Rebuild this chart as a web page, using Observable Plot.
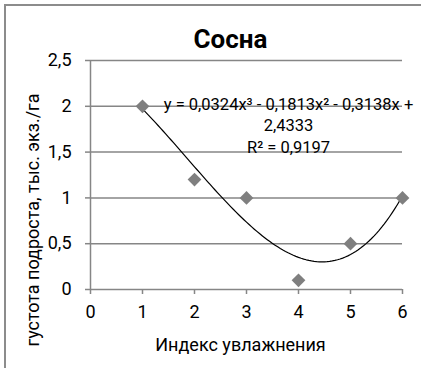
<!DOCTYPE html>
<html>
<head>
<meta charset="utf-8">
<script src="https://cdn.jsdelivr.net/npm/d3@7"></script>
<script src="https://cdn.jsdelivr.net/npm/@observablehq/plot@0.6"></script>
<style>
  html, body { margin: 0; padding: 0; background: #fff; }
  #wrap { position: relative; width: 421px; height: 368px; overflow: hidden; }
  #border { position: absolute; left: 4px; top: 4px; width: 415px; height: 362px; border: 2px solid #8c8c8c; pointer-events: none; }
</style>
</head>
<body>
<div id="wrap"><div id="border"></div></div>
<script>
// Data
const moisture = [1, 2, 3, 4, 5, 6];
const density = [2, 1.2, 1, 0.1, 0.5, 1];
const trendCoeffs = [0.0324, -0.1813, -0.3138, 2.4333]; // x^3, x^2, x, const
const xTicks = [0, 1, 2, 3, 4, 5, 6];
const yTicks = [0, 0.5, 1, 1.5, 2, 2.5];
const titleText = ["Сосна"];
const xLabel = ["Индекс увлажнения"];
const yLabel = ["густота подроста, тыс. экз./га"];
const equationText = ["y = 0,0324x³ - 0,1813x² - 0,3138x +\n2,4333\nR² = 0,9197"];

const fmt = d => String(d).replace(".", ",");
const points = moisture.map((x, i) => ({x, y: density[i]}));

// Trendline evaluated from the displayed polynomial coefficients
const trend = d3.range(moisture[0], moisture[moisture.length - 1] + 1e-9, 0.05).map(x => ({
  x,
  y: trendCoeffs[0] * x ** 3 + trendCoeffs[1] * x ** 2 + trendCoeffs[2] * x + trendCoeffs[3]
}));

const gray = "#868686";
const font = "Roboto, 'Open Sans', sans-serif";

const chart = Plot.plot({
  width: 421,
  height: 368,
  marginLeft: 90,
  marginRight: 19,
  marginTop: 60,
  marginBottom: 79,
  style: {fontFamily: font, fontSize: "16px", color: "#000", background: "transparent"},
  x: {domain: [0, 6], label: null},
  y: {domain: [0, 2.5], label: null},
  marks: [
    Plot.gridY(yTicks, {stroke: gray, strokeOpacity: 1, strokeWidth: 1.5}),
    Plot.ruleX([0], {stroke: gray, strokeWidth: 1.5}),
    Plot.axisX(xTicks, {tickSize: 5, tickPadding: 11, stroke: gray, strokeWidth: 1.5, tickFormat: fmt, fill: "#000", fontSize: 18}),
    Plot.axisY(yTicks, {tickSize: 5, tickPadding: 14, stroke: gray, strokeWidth: 1.5, tickFormat: fmt, fill: "#000", fontSize: 18}),
    Plot.line(trend, {x: "x", y: "y", stroke: "#000", strokeWidth: 1.2}),
    Plot.dot(points, {x: "x", y: "y", r: 6.2, symbol: d3.symbolDiamond2, fill: "#7f7f7f", stroke: "none"}),
    Plot.text(equationText, {frameAnchor: "top-left", dx: 198, dy: 64, text: d => d, textAnchor: "middle", lineAnchor: "middle", lineHeight: 1.3, fontSize: 16.5, fill: "#000"}),
    Plot.text(titleText, {frameAnchor: "top", dx: -16, dy: -21, text: d => d, textAnchor: "middle", fontSize: 26, fontWeight: "bold", lineAnchor: "middle", fill: "#000"}),
    Plot.text(xLabel, {frameAnchor: "bottom", dx: -6, dy: 56, text: d => d, textAnchor: "middle", fontSize: 18, lineAnchor: "middle", fill: "#000"}),
    Plot.text(yLabel, {frameAnchor: "left", dx: -57, dy: 45, text: d => d, textAnchor: "middle", rotate: -90, fontSize: 18, lineAnchor: "middle", fill: "#000"})
  ]
});

document.getElementById("wrap").appendChild(chart);
chart.style.position = "absolute";
chart.style.left = "0px";
chart.style.top = "0px";
</script>
</body>
</html>
